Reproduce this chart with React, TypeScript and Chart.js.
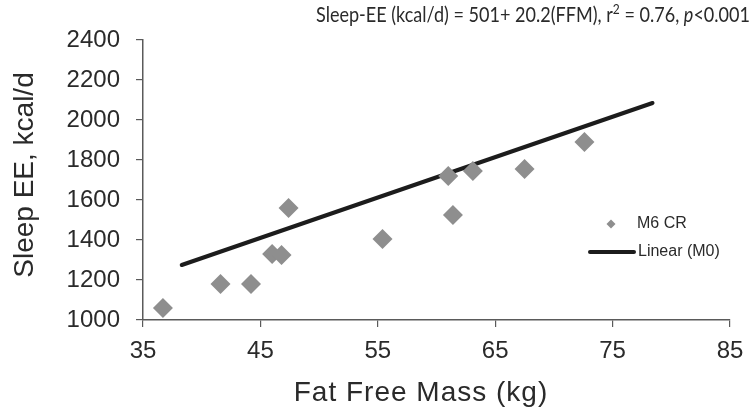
import React, { useEffect, useRef } from "react";
import { Chart, registerables } from "chart.js";

Chart.register(...registerables);

// Fat free mass (kg) and sleeping energy expenditure (kcal/d) per subject
const FFM_KG = [36.7, 41.6, 44.2, 46.0, 46.8, 47.4, 55.4, 61.0, 61.4, 63.1, 67.5, 72.6];
const SLEEP_EE = [1060, 1180, 1180, 1330, 1325, 1560, 1405, 1720, 1525, 1745, 1755, 1890];

// Baseline regression line: Sleep-EE = 501 + 20.2 * FFM
const FIT_X = [38.3, 78.4];
const FIT_Y = [1275, 2085];

const X_TICKS = [35, 45, 55, 65, 75, 85];
const Y_TICKS = [1000, 1200, 1400, 1600, 1800, 2000, 2200, 2400];

const SERIES_LABELS = ["M6 CR", "Linear (M0)"];
const X_TITLE = "Fat Free Mass (kg)";
const Y_TITLE = "Sleep EE, kcal/d";

const SANS = "'Liberation Sans', Arial, sans-serif";
const TITLE_FONT = "Lato, 'Open Sans', sans-serif";
const POINT_COLOR = "#8e8e8e";
const LINE_COLOR = "#1c1c1c";
const AXIS_COLOR = "#5a5a5a";
const TEXT_COLOR = "#2a2a2a";

// Equation header with superscript and italic p
const headerPlugin = {
  id: "header",
  afterDraw(chart: Chart) {
    const ctx = chart.ctx;
    const parts: { t: string; sup?: boolean; it?: boolean }[] = [
      { t: "Sleep-EE (kcal/d) = 501+ 20.2(FFM), r" },
      { t: "2", sup: true },
      { t: " = 0.76, " },
      { t: "p", it: true },
      { t: "<0.001" },
    ];
    const left = 316;
    const right = 750;
    const size = 21;
    const fontFor = (p: any) =>
      `${p.it ? "italic " : ""}${p.sup ? Math.round(size * 0.65) : size}px ${TITLE_FONT}`;
    const total = parts.reduce((w, p) => {
      ctx.font = fontFor(p);
      return w + ctx.measureText(p.t).width;
    }, 0);
    const sx = (right - left) / total;
    ctx.save();
    ctx.fillStyle = TEXT_COLOR;
    ctx.textBaseline = "alphabetic";
    ctx.textAlign = "left";
    ctx.translate(left, 22);
    ctx.scale(sx, 1);
    let x = 0;
    for (const p of parts) {
      ctx.font = fontFor(p);
      ctx.fillText(p.t, x, p.sup ? -size * 0.4 : 0);
      x += ctx.measureText(p.t).width;
    }
    ctx.restore();
  },
};

// Axis titles and legend
const annotationPlugin = {
  id: "annotations",
  afterDraw(chart: Chart) {
    const ctx = chart.ctx;
    ctx.save();
    ctx.fillStyle = TEXT_COLOR;
    ctx.textBaseline = "middle";
    ctx.textAlign = "center";

    ctx.font = `28px ${SANS}`;
    (ctx as any).letterSpacing = "1px";
    ctx.fillText(X_TITLE, 421, 393);
    (ctx as any).letterSpacing = "0px";

    ctx.save();
    ctx.translate(25, 175);
    ctx.rotate(-Math.PI / 2);
    ctx.font = `28px ${SANS}`;
    ctx.fillText(Y_TITLE, 0, 0);
    ctx.restore();

    // legend
    const ds = chart.data.datasets;
    ctx.fillStyle = POINT_COLOR;
    ctx.beginPath();
    const dx = 611, dy = 224, r = 4.5;
    ctx.moveTo(dx - r, dy);
    ctx.lineTo(dx, dy - r);
    ctx.lineTo(dx + r, dy);
    ctx.lineTo(dx, dy + r);
    ctx.closePath();
    ctx.fill();

    ctx.strokeStyle = LINE_COLOR;
    ctx.lineWidth = 4;
    ctx.lineCap = "round";
    ctx.beginPath();
    ctx.moveTo(590, 252);
    ctx.lineTo(634, 252);
    ctx.stroke();

    ctx.fillStyle = TEXT_COLOR;
    ctx.textAlign = "left";
    ctx.font = `16px ${SANS}`;
    ctx.fillText(String(ds[0].label), 637, 224);
    ctx.fillText(String(ds[1].label), 638, 252);
    ctx.restore();
  },
};

export default function App() {
  const canvasRef = useRef<HTMLCanvasElement | null>(null);

  useEffect(() => {
    if (!canvasRef.current) return;
    const chart = new Chart(canvasRef.current, {
      type: "scatter",
      data: {
        datasets: [
          {
            label: SERIES_LABELS[0],
            data: FFM_KG.map((x, i) => ({ x, y: SLEEP_EE[i] })),
            pointStyle: "rectRot",
            pointRadius: 10,
            pointHoverRadius: 10,
            backgroundColor: POINT_COLOR,
            borderColor: POINT_COLOR,
            borderWidth: 0,
            showLine: false,
          },
          {
            label: SERIES_LABELS[1],
            data: FIT_X.map((x, i) => ({ x, y: FIT_Y[i] })),
            showLine: true,
            pointRadius: 0,
            borderColor: LINE_COLOR,
            borderWidth: 4,
            borderCapStyle: "round",
            fill: false,
          },
        ],
      },
      options: {
        animation: false,
        responsive: true,
        maintainAspectRatio: false,
        layout: { padding: { top: 40, right: 24, left: 0, bottom: 0 } },
        plugins: {
          legend: { display: false },
          title: { display: false },
          tooltip: { enabled: false },
        },
        scales: {
          x: {
            type: "linear",
            min: X_TICKS[0],
            max: X_TICKS[X_TICKS.length - 1],
            afterBuildTicks: (scale: any) => {
              scale.ticks = X_TICKS.map((v) => ({ value: v }));
            },
            afterFit: (scale: any) => {
              scale.height = 89;
            },
            grid: {
              drawOnChartArea: false,
              drawTicks: true,
              tickLength: 7,
              color: AXIS_COLOR,
              lineWidth: 1.2,
            },
            border: { display: true, color: AXIS_COLOR, width: 1.5 },
            ticks: {
              color: TEXT_COLOR,
              font: { family: SANS, size: 24 },
              padding: 10,
              maxRotation: 0,
              autoSkip: false,
              callback: (v: any) => String(v),
            },
          },
          y: {
            type: "linear",
            min: Y_TICKS[0],
            max: Y_TICKS[Y_TICKS.length - 1],
            afterBuildTicks: (scale: any) => {
              scale.ticks = Y_TICKS.map((v) => ({ value: v }));
            },
            afterFit: (scale: any) => {
              scale.width = 143;
            },
            grid: {
              drawOnChartArea: false,
              drawTicks: true,
              tickLength: 7,
              color: AXIS_COLOR,
              lineWidth: 1.2,
            },
            border: { display: true, color: AXIS_COLOR, width: 1.5 },
            ticks: {
              color: TEXT_COLOR,
              font: { family: SANS, size: 24 },
              padding: 16,
              autoSkip: false,
              callback: (v: any) => String(v),
            },
          },
        },
      },
      plugins: [headerPlugin, annotationPlugin],
    } as any);
    return () => chart.destroy();
  }, []);

  return (
    <div style={{ position: "absolute", left: 0, top: 0, width: 754, height: 409, background: "#fff" }}>
      <canvas ref={canvasRef} />
    </div>
  );
}
